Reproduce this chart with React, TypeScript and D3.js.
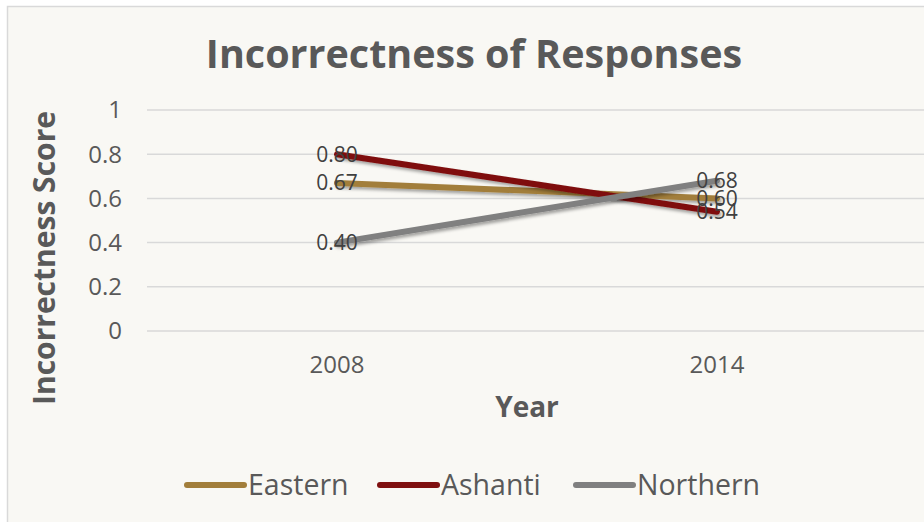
import * as d3 from "d3";
import React from "react";

const years = ["2008", "2014"];
const seriesNames = ["Eastern", "Ashanti", "Northern"];
const eastern = [0.67, 0.6];
const ashanti = [0.8, 0.54];
const northern = [0.4, 0.68];
const yTicks = [0, 0.2, 0.4, 0.6, 0.8, 1];
const colors = ["#a27e3b", "#7f1010", "#808080"];

export default function App() {
  const width = 924;
  const height = 522;
  const svgRef = React.useRef<SVGSVGElement | null>(null);

  React.useEffect(() => {
    const svg = d3.select(svgRef.current);
    svg.selectAll("*").remove();
    const font = "'Open Sans', 'Noto Sans', sans-serif";
    const plot = { left: 147, right: 907, top: 110, bottom: 331 };

    const defs = svg.append("defs");
    const f = defs
      .append("filter")
      .attr("id", "shadow")
      .attr("x", "-20%")
      .attr("y", "-50%")
      .attr("width", "140%")
      .attr("height", "200%");
    f.append("feDropShadow")
      .attr("dx", 1.5)
      .attr("dy", 2.5)
      .attr("stdDeviation", 1.5)
      .attr("flood-color", "#000")
      .attr("flood-opacity", 0.35);

    // card
    svg
      .append("rect")
      .attr("x", 7.5)
      .attr("y", 6.5)
      .attr("width", width)
      .attr("height", height)
      .attr("fill", "#f9f8f4")
      .attr("stroke", "#d9d9d9")
      .attr("stroke-width", 1.5);

    const x = d3
      .scaleBand()
      .domain(years)
      .range([plot.left, plot.right]);
    const y = d3
      .scaleLinear()
      .domain([0, 1])
      .range([plot.bottom, plot.top]);
    const cx = (d: string) => (x(d) ?? 0) + x.bandwidth() / 2;

    // grid
    svg
      .append("g")
      .selectAll("line")
      .data(yTicks)
      .join("line")
      .attr("x1", plot.left)
      .attr("x2", width)
      .attr("y1", (d) => y(d))
      .attr("y2", (d) => y(d))
      .attr("stroke", "#d9d9d9")
      .attr("stroke-width", 1.5);

    svg
      .append("g")
      .selectAll("text")
      .data(yTicks)
      .join("text")
      .attr("x", 122)
      .attr("y", (d) => y(d))
      .attr("dy", "0.35em")
      .attr("text-anchor", "end")
      .attr("font-family", font)
      .attr("font-size", 24)
      .attr("fill", "#595959")
      .text((d) => String(d));

    svg
      .append("g")
      .selectAll("text")
      .data(years)
      .join("text")
      .attr("x", (d) => cx(d))
      .attr("y", 373)
      .attr("text-anchor", "middle")
      .attr("font-family", font)
      .attr("font-size", 24)
      .attr("fill", "#595959")
      .text((d) => d);

    // titles
    svg
      .append("text")
      .attr("x", 474)
      .attr("y", 68)
      .attr("text-anchor", "middle")
      .attr("font-family", font)
      .attr("font-weight", "bold")
      .attr("font-size", 39.5)
      .attr("fill", "#595959")
      .text("Incorrectness of Responses");

    svg
      .append("text")
      .attr("x", 527)
      .attr("y", 417)
      .attr("text-anchor", "middle")
      .attr("font-family", font)
      .attr("font-weight", "bold")
      .attr("font-size", 28)
      .attr("fill", "#595959")
      .text("Year");

    svg
      .append("text")
      .attr("transform", "translate(55,258) rotate(-90)")
      .attr("text-anchor", "middle")
      .attr("font-family", font)
      .attr("font-weight", "bold")
      .attr("font-size", 30)
      .attr("fill", "#595959")
      .text("Incorrectness Score");

    const allSeries = [eastern, ashanti, northern];
    const line = d3
      .line<number>()
      .x((_, i) => cx(years[i]))
      .y((d) => y(d));

    allSeries.forEach((vals, si) => {
      svg
        .append("path")
        .attr("d", line(vals) ?? "")
        .attr("fill", "none")
        .attr("stroke", colors[si])
        .attr("stroke-width", 6)
        .attr("stroke-linecap", "round")
        .attr("filter", "url(#shadow)");
    });

    allSeries.forEach((vals) => {
      svg
        .append("g")
        .selectAll("text")
        .data(vals)
        .join("text")
        .attr("x", (_, i) => cx(years[i]))
        .attr("y", (d) => y(d))
        .attr("dy", "0.35em")
        .attr("text-anchor", "middle")
        .attr("font-family", font)
        .attr("font-size", 21)
        .attr("fill", "#404040")
        .text((d) => d.toFixed(2));
    });

    // legend
    const legendX = [187, 380, 576];
    seriesNames.forEach((name, i) => {
      const g = svg.append("g").attr("transform", `translate(${legendX[i]},485)`);
      g.append("line")
        .attr("x1", 0)
        .attr("x2", 57)
        .attr("stroke", colors[i])
        .attr("stroke-width", 6)
        .attr("stroke-linecap", "round");
      g.append("text")
        .attr("x", 61)
        .attr("dy", "0.35em")
        .attr("font-family", font)
        .attr("font-size", 28.5)
        .attr("fill", "#595959")
        .text(name);
    });
  }, []);

  return (
    <svg
      ref={svgRef}
      width={width}
      height={height}
      viewBox={`0 0 ${width} ${height}`}
      style={{ position: "absolute", left: 0, top: 0, background: "#fff" }}
    ></svg>
  );
}
